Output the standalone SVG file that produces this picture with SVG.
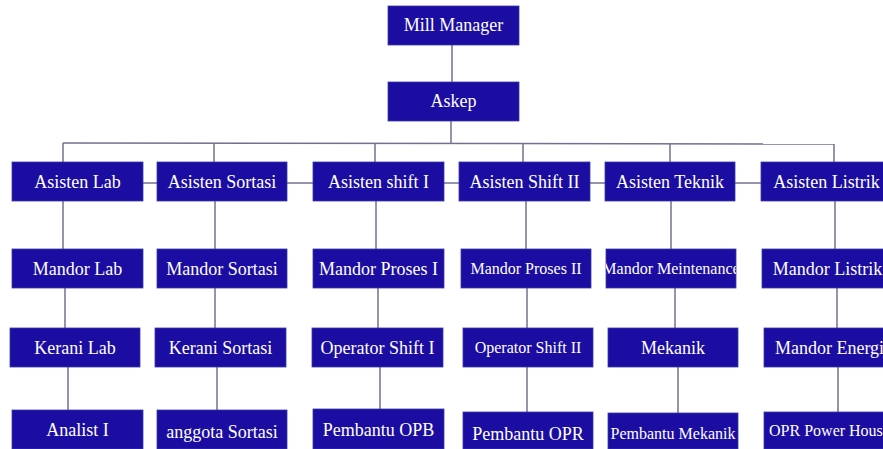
<svg xmlns="http://www.w3.org/2000/svg" width="883" height="449" viewBox="0 0 883 449">
<style>
.b{fill:#1c0da2;stroke:#3a3aa8;stroke-width:0.8}
.t{fill:#ffffff;font-family:"Liberation Serif","Times New Roman",serif;font-size:18px;text-anchor:middle}
.s{font-size:16px}
.c line{stroke:#707090;stroke-width:1.5}
</style>
<defs><clipPath id="cm"><rect x="606" y="249" width="130" height="39"/></clipPath></defs>
<rect width="883" height="449" fill="#ffffff"/>
<g class="c" id="connectors">
<line x1="452" y1="45" x2="452" y2="82"/>
<line x1="451" y1="121" x2="451" y2="143"/>
<line x1="63" y1="143" x2="834" y2="144"/>
<line x1="63" y1="143" x2="63" y2="162"/>
<line x1="214" y1="143" x2="214" y2="162"/>
<line x1="375" y1="143" x2="375" y2="162"/>
<line x1="523" y1="143" x2="523" y2="162"/>
<line x1="670" y1="144" x2="670" y2="162"/>
<line x1="834" y1="144" x2="834" y2="162"/>
<line x1="143" y1="183" x2="157" y2="183"/>
<line x1="287" y1="183" x2="313" y2="183"/>
<line x1="444" y1="183" x2="459" y2="183"/>
<line x1="590" y1="183" x2="605" y2="183"/>
<line x1="735" y1="183" x2="761" y2="183"/>
<line x1="63" y1="201" x2="63" y2="249"/>
<line x1="215" y1="201" x2="215" y2="249"/>
<line x1="376" y1="201" x2="376" y2="249"/>
<line x1="526" y1="201" x2="526" y2="249"/>
<line x1="671" y1="201" x2="671" y2="249"/>
<line x1="835" y1="201" x2="835" y2="249"/>
<line x1="65" y1="288" x2="65" y2="328"/>
<line x1="215" y1="288" x2="215" y2="328"/>
<line x1="378" y1="288" x2="378" y2="328"/>
<line x1="527" y1="288" x2="527" y2="328"/>
<line x1="675" y1="288" x2="675" y2="328"/>
<line x1="837" y1="288" x2="837" y2="328"/>
<line x1="68" y1="367" x2="68" y2="410"/>
<line x1="217" y1="367" x2="217" y2="410"/>
<line x1="380" y1="367" x2="380" y2="409"/>
<line x1="527" y1="367" x2="527" y2="412"/>
<line x1="678" y1="367" x2="678" y2="413"/>
<line x1="838" y1="367" x2="838" y2="412"/>
</g>
<g id="mill-manager"><rect class="b" x="388" y="6" width="131" height="39"/><text class="t" x="453.5" y="31">Mill Manager</text></g>
<g id="askep"><rect class="b" x="388" y="82" width="131" height="39"/><text class="t" x="453.5" y="107">Askep</text></g>
<g id="asisten-lab"><rect class="b" x="12" y="162" width="131" height="39"/><text class="t" x="77.5" y="188">Asisten Lab</text></g>
<g id="asisten-sortasi"><rect class="b" x="157" y="162" width="130" height="39"/><text class="t" x="222" y="188">Asisten Sortasi</text></g>
<g id="asisten-shift-1"><rect class="b" x="313" y="162" width="131" height="39"/><text class="t" x="378.5" y="188">Asisten shift I</text></g>
<g id="asisten-shift-2"><rect class="b" x="459" y="162" width="131" height="39"/><text class="t" x="524.5" y="188">Asisten Shift II</text></g>
<g id="asisten-teknik"><rect class="b" x="605" y="162" width="130" height="39"/><text class="t" x="670" y="188">Asisten Teknik</text></g>
<g id="asisten-listrik"><rect class="b" x="761" y="162" width="131" height="39"/><text class="t" x="826.5" y="188">Asisten Listrik</text></g>
<g id="mandor-lab"><rect class="b" x="12" y="249" width="131" height="39"/><text class="t" x="77.5" y="275">Mandor Lab</text></g>
<g id="mandor-sortasi"><rect class="b" x="157" y="249" width="130" height="39"/><text class="t" x="222" y="275">Mandor Sortasi</text></g>
<g id="mandor-proses-1"><rect class="b" x="313" y="249" width="131" height="39"/><text class="t" x="378.5" y="275">Mandor Proses I</text></g>
<g id="mandor-proses-2"><rect class="b" x="461" y="249" width="130" height="39"/><text class="t s" x="526" y="274">Mandor Proses II</text></g>
<g id="mandor-meintenance"><rect class="b" x="606" y="249" width="130" height="39"/><text class="t s" x="671" y="274" clip-path="url(#cm)">Mandor Meintenance</text></g>
<g id="mandor-listrik"><rect class="b" x="762" y="249" width="131" height="39"/><text class="t" x="827.5" y="275">Mandor Listrik</text></g>
<g id="kerani-lab"><rect class="b" x="10" y="328" width="130" height="39"/><text class="t" x="75" y="354">Kerani Lab</text></g>
<g id="kerani-sortasi"><rect class="b" x="155" y="328" width="131" height="39"/><text class="t" x="220.5" y="354">Kerani Sortasi</text></g>
<g id="operator-shift-1"><rect class="b" x="312" y="328" width="131" height="39"/><text class="t" x="377.5" y="354">Operator Shift I</text></g>
<g id="operator-shift-2"><rect class="b" x="463" y="328" width="130" height="39"/><text class="t s" x="528" y="353">Operator Shift II</text></g>
<g id="mekanik"><rect class="b" x="608" y="328" width="130" height="39"/><text class="t" x="673" y="354">Mekanik</text></g>
<g id="mandor-energi"><rect class="b" x="764" y="328" width="131" height="39"/><text class="t" x="829.5" y="354">Mandor Energi</text></g>
<g id="analist-1"><rect class="b" x="12" y="410" width="131" height="39"/><text class="t" x="77.5" y="436">Analist I</text></g>
<g id="anggota-sortasi"><rect class="b" x="157" y="410" width="130" height="39"/><text class="t" x="222" y="438">anggota Sortasi</text></g>
<g id="pembantu-opb"><rect class="b" x="313" y="409" width="131" height="40"/><text class="t" x="378.5" y="436">Pembantu OPB</text></g>
<g id="pembantu-opr"><rect class="b" x="463" y="412" width="130" height="37"/><text class="t" x="528" y="440">Pembantu OPR</text></g>
<g id="pembantu-mekanik"><rect class="b" x="608" y="413" width="130" height="36"/><text class="t s" x="673" y="439">Pembantu Mekanik</text></g>
<g id="opr-power-house"><rect class="b" x="764" y="412" width="131" height="37"/><text class="t s" x="829.5" y="436">OPR Power House</text></g>
</svg>
